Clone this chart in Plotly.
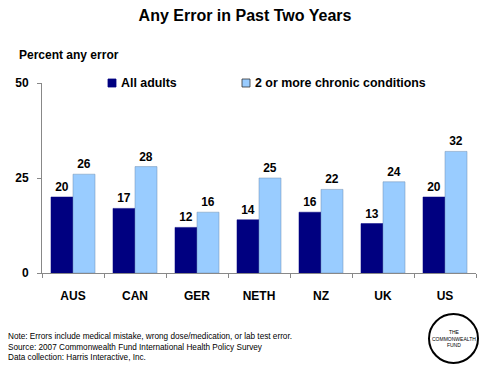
import plotly.graph_objects as go

categories = ["AUS", "CAN", "GER", "NETH", "NZ", "UK", "US"]
all_adults = [20, 17, 12, 14, 16, 13, 20]
chronic = [26, 28, 16, 25, 22, 24, 32]
y_ticks = [0, 25, 50]
series_names = ["All adults", "2 or more chronic conditions"]
series_colors = ["#000080", "#99CCFF"]

W, H = 490, 368
L, R, T, B = 42, 14, 83, 95
fnt = "Arial, Liberation Sans, sans-serif"

plot_w = W - L - R
plot_h = H - T - B
def px(x): return (x - L) / plot_w
def py(y): return (H - B - y) / plot_h

fig = go.Figure()
for name, vals, col in zip(series_names, [all_adults, chronic], series_colors):
    fig.add_trace(go.Bar(x=categories, y=vals, name=name,
                         marker=dict(color=col, line=dict(color="#6f8fb0" if col == "#99CCFF" else col, width=0.5)),
                         text=vals, textposition="outside",
                         textfont=dict(family=fnt, size=12, color="black", weight="bold"),
                         cliponaxis=False, hoverinfo="skip"))

fig.update_layout(
    width=W, height=H,
    margin=dict(l=L, r=R, t=T, b=B, autoexpand=False),
    paper_bgcolor="white", plot_bgcolor="white",
    barmode="group", bargap=0.29, bargroupgap=0,
    showlegend=False,
    title=dict(text="<b>Any Error in Past Two Years</b>", x=0.5, xanchor="center",
               y=1 - 15 / H, yanchor="middle", font=dict(family=fnt, size=16, color="black")),
    font=dict(family=fnt, color="black"),
)
fig.update_yaxes(range=[0, 50], tickvals=y_ticks, showgrid=False, zeroline=False,
                 showline=True, linecolor="#888888", linewidth=1,
                 ticks="outside", ticklen=4, tickcolor="#888888",
                 tickfont=dict(family=fnt, size=12, color="black", weight="bold"),
                 ticklabelstandoff=6)
fig.update_xaxes(showgrid=False, showline=True, linecolor="#888888", linewidth=1,
                 ticks="outside", ticklen=4, tickcolor="#888888", tickson="boundaries",
                 tickfont=dict(family=fnt, size=12, color="black", weight="bold"),
                 ticklabelstandoff=12)

fig.add_annotation(text="<b>Percent any error</b>", x=px(17), y=py(55), xref="paper", yref="paper",
                   xanchor="left", yanchor="middle", showarrow=False,
                   font=dict(family=fnt, size=12, color="black"))

# legend drawn manually
leg_x = [108, 242]
for lx, name, col in zip(leg_x, series_names, series_colors):
    fig.add_shape(type="rect", xref="paper", yref="paper",
                  x0=px(lx), x1=px(lx + 8), y0=py(87), y1=py(79),
                  fillcolor=col, line=dict(color="#333333" if col == "#99CCFF" else col, width=0.8))
    fig.add_annotation(text="<b>" + name + "</b>", x=px(lx + 11), y=py(83), xref="paper", yref="paper",
                       xanchor="left", yanchor="middle", showarrow=False,
                       font=dict(family=fnt, size=12.4, color="black"))

fig.add_annotation(text="Note: Errors include medical mistake, wrong dose/medication, or lab test error.<br>"
                        "Source: 2007 Commonwealth Fund International Health Policy Survey<br>"
                        "Data collection: Harris Interactive, Inc.",
                   x=px(6), y=py(347), xref="paper", yref="paper", xanchor="left", yanchor="middle",
                   align="left", showarrow=False,
                   font=dict(family=fnt, size=8.2, color="black"))
fig.add_shape(type="circle", xref="paper", yref="paper",
              x0=px(429), x1=px(478), y0=py(314), y1=py(363),
              line=dict(color="black", width=2), fillcolor="white")
fig.add_annotation(text="THE<br>COMMONWEALTH<br>FUND", x=px(453.5), y=py(338), xref="paper", yref="paper",
                   xanchor="center", yanchor="middle", showarrow=False,
                   font=dict(family=fnt, size=5, color="black"))

fig.write_html("out.html", config={"displayModeBar": False},
               post_script="document.body.style.margin='0px';document.body.style.padding='0px';")
